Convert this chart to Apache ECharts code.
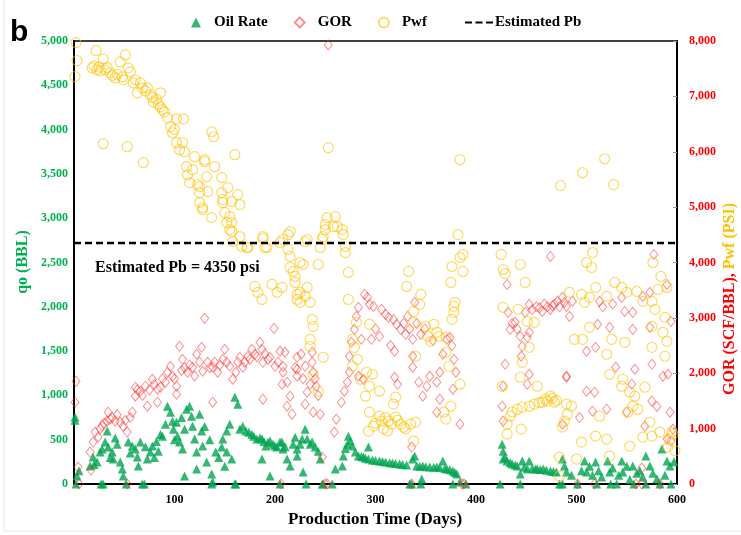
<!DOCTYPE html>
<html><head><meta charset="utf-8">
<script src="https://cdn.jsdelivr.net/npm/echarts@6/dist/echarts.min.js"></script>
<style>html,body{margin:0;padding:0;background:#fff}#c{width:741px;height:535px}</style>
</head><body><div id="c"></div>
<script>
// ---- Data ----
const xTicks = [100, 200, 300, 400, 500, 600];
const pbValue = 4350;
const pbLabel = 'Estimated Pb = 4350 psi';

const oilRate = [[1,755],[1,720],[2,0],[3,90],[5,150],[16,203],[19,304],[20,220],[23,248],[26,360],[27,0],[28,394],[29,0],[31,473],[33,597],[34,417],[36,300],[38,360],[39,281],[41,520],[43,450],[46,248],[48,169],[49,90],[52,0],[54,473],[56,350],[58,428],[61,394],[63,304],[64,203],[66,473],[68,0],[70,0],[71,420],[73,281],[76,360],[78,428],[80,300],[82,480],[84,371],[86,560],[88,540],[91,675],[93,878],[96,811],[98,709],[99,619],[100,500],[102,698],[103,540],[105,473],[107,750],[108,394],[110,619],[110,90],[112,844],[115,878],[117,766],[118,653],[120,507],[122,360],[122,169],[125,788],[127,597],[128,428],[130,650],[132,248],[135,500],[137,113],[137,0],[138,22],[141,360],[144,300],[147,417],[148,507],[150,200],[152,597],[152,360],[155,675],[157,281],[160,980],[160,0],[161,0],[163,901],[165,619],[168,653],[171,597],[174,585],[177,560],[179,540],[182,507],[185,520],[187,507],[187,281],[189,480],[191,428],[193,470],[195,484],[195,90],[198,450],[200,430],[202,417],[205,473],[205,0],[207,473],[208,394],[210,420],[212,281],[215,203],[218,450],[220,529],[222,394],[222,315],[225,450],[227,507],[228,135],[230,619],[231,0],[232,507],[235,450],[237,473],[240,417],[243,371],[245,281],[247,0],[248,0],[257,0],[260,169],[267,203],[268,315],[270,400],[272,450],[273,540],[275,484],[277,428],[280,360],[283,315],[286,310],[288,304],[290,290],[293,281],[293,417],[297,270],[300,265],[304,259],[307,255],[310,248],[314,240],[317,236],[320,230],[324,225],[327,220],[331,214],[334,0],[336,0],[337,281],[339,315],[341,203],[344,200],[345,0],[346,56],[347,203],[350,195],[354,191],[358,190],[361,191],[364,185],[367,259],[369,175],[371,169],[374,160],[377,146],[377,0],[379,130],[381,113],[384,22],[390,0],[424,0],[426,450],[427,371],[427,281],[429,300],[431,259],[434,240],[436,225],[439,215],[441,203],[444,113],[444,0],[446,259],[448,190],[451,169],[453,259],[456,175],[459,170],[461,169],[464,165],[467,169],[470,155],[474,146],[477,140],[480,135],[483,0],[486,281],[486,0],[488,203],[490,135],[495,100],[501,0],[505,150],[508,259],[510,135],[513,200],[516,100],[519,248],[520,0],[522,150],[525,80],[531,259],[533,135],[534,0],[536,180],[540,0],[542,100],[545,259],[546,135],[550,200],[553,50],[556,203],[557,0],[560,120],[563,150],[566,80],[569,315],[569,0],[573,203],[576,120],[580,60],[583,0],[585,394],[588,100],[590,259],[593,203],[594,0],[597,250]];

const gor = [[1,1477],[2,1856],[4,306],[5,0],[16,577],[17,252],[19,757],[21,937],[24,850],[26,991],[28,1050],[30,1100],[33,1135],[34,1297],[36,1171],[38,1200],[41,1135],[43,1250],[46,1117],[49,1045],[51,1150],[53,937],[53,0],[56,1200],[58,1297],[61,1586],[61,1748],[63,1700],[66,1676],[68,1600],[71,1766],[73,1405],[75,1700],[78,1892],[80,1800],[83,1712],[83,1477],[86,1750],[88,1900],[91,1838],[93,2018],[96,2126],[98,1946],[100,1900],[102,1766],[102,1622],[105,2487],[107,2050],[108,2252],[110,2100],[113,2018],[115,2150],[118,2108],[120,1950],[122,2343],[125,2200],[127,2469],[128,2036],[130,2991],[133,2198],[135,2100],[138,2108],[138,1477],[140,2200],[143,2018],[145,2150],[148,2252],[150,2433],[152,2200],[155,2126],[158,1892],[161,2018],[163,2200],[165,2288],[168,2108],[170,2200],[173,2307],[175,2250],[177,2433],[180,2343],[182,2300],[185,2559],[187,2433],[188,2198],[188,1532],[190,2350],[193,2250],[195,2288],[199,2811],[200,2126],[203,2200],[205,2397],[206,0],[207,1802],[208,2018],[208,2126],[210,2379],[212,1838],[212,1405],[215,1586],[217,1261],[220,2100],[222,2288],[222,2072],[222,1946],[226,2343],[228,1900],[230,2126],[230,1442],[232,1658],[235,1800],[237,2379],[237,2198],[238,2018],[238,1297],[240,1900],[241,1766],[243,1600],[245,1261],[247,486],[250,0],[252,0],[253,7929],[259,937],[261,1171],[266,1477],[269,1676],[272,1838],[274,2018],[274,2307],[276,2559],[279,2793],[281,3027],[283,3189],[283,1946],[286,2613],[288,1892],[289,3424],[292,3370],[294,3244],[296,2613],[298,3208],[300,2800],[304,2667],[306,3153],[310,3063],[313,3009],[315,2500],[318,2973],[319,2397],[319,1928],[321,2883],[322,1800],[325,2793],[328,2900],[330,2703],[332,3027],[334,2800],[336,667],[336,0],[337,2613],[337,2307],[337,2108],[339,3280],[341,2900],[343,1838],[345,2700],[347,1586],[349,2800],[351,1766],[354,1946],[357,2600],[361,1838],[361,1297],[364,2018],[364,1532],[367,2343],[371,2613],[374,2649],[376,2500],[377,1712],[378,2252],[380,2018],[384,1081],[386,0],[388,0],[426,1405],[427,1766],[427,1135],[429,2162],[431,3604],[432,3100],[434,2793],[436,2900],[439,2919],[441,2800],[444,2667],[445,2307],[446,2487],[449,3100],[451,2649],[451,1802],[453,2739],[453,3244],[453,1982],[456,3150],[460,3200],[463,3180],[466,3117],[468,3250],[471,3200],[474,3153],[474,4109],[476,3220],[478,3244],[481,3300],[483,3200],[486,3370],[486,1081],[488,3280],[490,3208],[490,1928],[490,1946],[493,3027],[496,3300],[501,0],[503,1200],[510,2397],[510,1676],[516,1315],[518,1658],[518,0],[519,2469],[521,2883],[523,3298],[526,3200],[530,1351],[533,2829],[536,3250],[539,2108],[545,3370],[548,3117],[550,1297],[555,1802],[556,3100],[556,2793],[558,2072],[559,0],[565,288],[565,0],[566,3388],[568,1045],[573,3460],[573,2829],[575,2162],[575,1496],[577,4145],[580,1400],[583,0],[586,1946],[590,3604],[590,811],[591,1982],[593,1297],[594,775],[594,2937],[596,991]];

const pwf = [[1,7357],[2,7970],[3,7646],[18,7514],[20,7550],[22,7826],[23,7480],[25,7530],[26,7460],[29,7676],[29,6145],[31,7478],[33,7520],[36,7424],[38,7380],[41,7334],[43,7400],[46,7622],[48,7350],[49,7298],[51,7748],[53,6091],[54,7514],[56,7442],[59,7244],[61,7300],[63,7064],[66,7244],[68,7150],[69,5802],[71,7100],[73,7154],[76,7028],[78,6980],[79,6902],[82,6950],[84,6860],[86,7064],[86,6812],[88,6760],[90,6721],[93,6613],[96,6451],[98,6343],[100,6400],[102,6595],[102,6163],[105,6037],[108,6163],[109,6595],[110,6000],[112,5730],[113,5586],[115,5442],[118,5676],[120,5911],[123,5406],[125,5262],[125,5370],[125,5082],[128,4956],[128,4991],[130,5857],[130,5820],[132,5550],[133,5280],[137,6361],[137,4811],[139,6271],[140,5730],[147,5532],[147,5262],[148,5082],[148,5136],[150,4901],[152,4721],[153,5352],[155,4829],[155,4595],[157,4721],[157,4559],[157,5100],[158,4379],[160,5947],[163,5226],[165,5046],[165,4469],[167,4289],[172,4271],[173,4271],[180,3568],[183,3460],[187,3333],[188,4469],[188,4433],[190,4271],[192,4271],[197,3604],[202,3460],[205,4361],[207,3550],[208,4415],[213,4505],[213,4235],[215,4559],[215,4109],[215,3910],[218,3838],[220,3748],[220,3640],[222,3424],[222,3333],[225,3460],[225,3280],[225,4000],[228,3964],[230,3388],[230,4379],[232,3550],[232,4415],[235,3280],[235,2613],[235,2487],[237,2973],[238,2847],[238,1982],[243,3964],[243,1676],[245,4271],[247,4415],[248,2289],[248,4469],[250,4595],[250,4685],[252,4811],[253,6073],[258,4649],[260,4829],[262,4649],[267,4595],[268,4505],[270,4289],[270,4180],[273,3820],[273,3333],[277,2613],[277,2126],[279,2469],[281,2919],[282,2252],[285,1892],[290,1586],[291,2018],[293,955],[294,1766],[294,1297],[294,2883],[297,1982],[298,1045],[300,1100],[304,1676],[304,1225],[306,1135],[308,1000],[310,1200],[312,960],[313,1135],[316,1081],[318,1442],[320,1568],[320,1207],[322,1150],[325,1081],[328,1027],[330,1000],[331,3568],[333,3838],[335,1080],[338,3117],[338,2919],[338,775],[340,1117],[340,2307],[344,3244],[345,3424],[350,2847],[352,2667],[355,2577],[358,2883],[361,2739],[363,2667],[368,1297],[370,2649],[370,2379],[370,1171],[373,2126],[375,1405],[375,3640],[376,2973],[376,3928],[378,3208],[378,3100],[379,3280],[382,4505],[384,5856],[384,4090],[384,1802],[387,3838],[387,4145],[425,4145],[426,1766],[427,3874],[427,3189],[429,3800],[431,1081],[431,901],[434,1225],[436,1300],[441,1351],[442,3153],[444,3964],[444,1928],[445,991],[446,2198],[446,1387],[449,3640],[451,2937],[453,2469],[453,1405],[458,2919],[458,1442],[461,1766],[463,1470],[466,1478],[469,1530],[471,1496],[474,1586],[476,1550],[478,1478],[480,1510],[483,487],[483,144],[484,5388],[486,1027],[488,1135],[490,1442],[491,1261],[493,3460],[495,1405],[498,2613],[500,450],[505,3424],[505,757],[506,2613],[506,5622],[508,3280],[510,4000],[513,3370],[513,2829],[515,3910],[516,4180],[519,3550],[519,865],[523,1225],[528,5874],[530,3388],[530,2343],[530,811],[533,1982],[533,505],[535,2613],[537,5406],[538,3640],[545,3550],[545,1766],[546,1892],[548,2559],[550,3460],[551,1297],[553,1658],[553,685],[556,1405],[558,1586],[560,3478],[561,1351],[566,3298],[566,847],[568,1748],[573,1117],[575,3298],[575,2847],[575,2469],[575,865],[576,4000],[578,3153],[581,3514],[583,937],[584,3748],[586,2739],[588,3009],[588,2307],[590,3550],[590,2577],[591,667],[593,811],[595,937],[596,900],[598,600]];

// ---- Chart ----
const SERIF = 'Liberation Serif';
const GREEN = '#00A550', YELLOW = '#FFC000';
const fmt = v => v.toLocaleString('en-US');
const legendText = {fontFamily: SERIF, fontWeight: 'bold', fontSize: 15, color: '#000'};
const chart = echarts.init(document.getElementById('c'), null, {renderer: 'canvas'});
chart.setOption({
  animation: false,
  backgroundColor: '#fff',
  textStyle: {fontFamily: SERIF},
  legend: [{
    left: 186, top: 10, itemWidth: 10, itemHeight: 10, itemGap: 26,
    textStyle: Object.assign({padding: [0, 0, 0, 8]}, legendText),
    data: ['Oil Rate', 'GOR', 'Pwf']
  }, {
    left: 460, top: 10, itemWidth: 28, itemHeight: 3, itemGap: 10,
    textStyle: Object.assign({padding: [0, 0, 0, -3]}, legendText),
    itemStyle: {color: '#000'},
    data: [{name: 'Estimated Pb', icon: 'path://M0,0H7V2H0Z M10.5,0H17.5V2H10.5Z M21,0H28V2H21Z'}]
  }],
  grid: {left: 74, right: 64, top: 41, bottom: 51, show: true, borderColor: '#000', borderWidth: 1.5, backgroundColor: 'transparent'},
  xAxis: {
    type: 'value', min: 0, max: 600, interval: 100,
    axisLine: {show: true, lineStyle: {color: '#000', width: 2}},
    axisTick: {show: false}, splitLine: {show: false},
    axisLabel: {showMinLabel: false, fontFamily: SERIF, fontWeight: 'bold', fontSize: 12, color: '#000', margin: 10,
      formatter: v => xTicks.includes(v) ? String(v) : ''}
  },
  yAxis: [{
    type: 'value', min: 0, max: 5000, interval: 500, position: 'left',
    axisLine: {show: true, lineStyle: {color: '#000', width: 2}},
    axisTick: {show: false}, splitLine: {show: false},
    axisLabel: {fontFamily: SERIF, fontWeight: 'bold', fontSize: 12, color: '#00B050', margin: 6, formatter: fmt}
  }, {
    type: 'value', min: 0, max: 8000, interval: 1000, position: 'right',
    axisLine: {show: true, lineStyle: {color: '#000', width: 2}},
    axisTick: {show: true, inside: true, length: 4, lineStyle: {color: '#999'}}, splitLine: {show: false},
    axisLabel: {fontFamily: SERIF, fontWeight: 'bold', fontSize: 12, color: '#FF0000', margin: 12, formatter: fmt}
  }],
  series: [{
    name: 'Oil Rate', type: 'scatter', yAxisIndex: 0, data: oilRate,
    symbol: 'triangle', symbolSize: 9, itemStyle: {color: GREEN}
  }, {
    name: 'GOR', type: 'scatter', yAxisIndex: 1, data: gor,
    symbol: 'diamond', symbolSize: [8, 10],
    itemStyle: {color: 'rgba(255,255,255,0)', borderColor: 'rgba(255,40,40,0.65)', borderWidth: 1}
  }, {
    name: 'Pwf', type: 'scatter', yAxisIndex: 1, data: pwf,
    symbol: 'circle', symbolSize: 10,
    itemStyle: {color: 'rgba(255,255,255,0)', borderColor: 'rgba(255,192,0,0.75)', borderWidth: 1.2}
  }, {
    name: 'Estimated Pb', type: 'line', yAxisIndex: 1, data: [[0, pbValue], [600, pbValue]],
    symbol: 'none', lineStyle: {color: '#000', width: 2.5, type: [7, 4]}, itemStyle: {color: '#000'}
  }],
  graphic: [
    {type: 'rect', shape: {x: 4, y: -5, width: 745, height: 536}, style: {fill: 'none', stroke: '#e6e6e6', lineWidth: 1}, silent: true},
    {type: 'text', x: 10, y: 18, style: {text: 'b', fontFamily: 'Liberation Sans', fontWeight: 'bold', fontSize: 30, fill: '#000'}},
    {type: 'text', x: 95, y: 268, style: {text: pbLabel, fontFamily: SERIF, fontWeight: 'bold', fontSize: 16, fill: '#000', textVerticalAlign: 'middle'}},
    {type: 'text', x: 375, y: 520, style: {text: 'Production Time (Days)', fontFamily: SERIF, fontWeight: 'bold', fontSize: 17, fill: '#000', textAlign: 'center', textVerticalAlign: 'middle'}},
    {type: 'text', x: 23, y: 262, rotation: Math.PI / 2, style: {text: 'qo (BBL)', fontFamily: SERIF, fontWeight: 'bold', fontSize: 16, fill: '#00B050', textAlign: 'center', textVerticalAlign: 'middle'}},
    {type: 'text', x: 730, y: 299, rotation: Math.PI / 2, style: {
      text: '{r|GOR (SCF/BBL), }{y|Pwf (PSI)}', textAlign: 'center', textVerticalAlign: 'middle',
      rich: {r: {fontFamily: SERIF, fontWeight: 'bold', fontSize: 16, fill: '#FF0000', color: '#FF0000'},
             y: {fontFamily: SERIF, fontWeight: 'bold', fontSize: 16, fill: YELLOW, color: YELLOW}}}}
  ]
});
</script></body></html>
